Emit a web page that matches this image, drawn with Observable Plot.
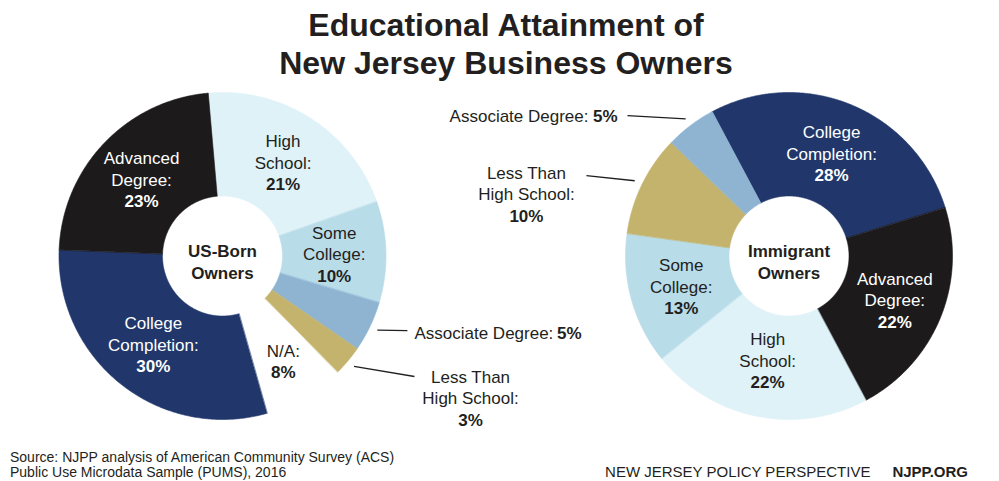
<!DOCTYPE html>
<html><head><meta charset="utf-8">
<script src="https://cdn.jsdelivr.net/npm/d3@7"></script>
<script src="https://cdn.jsdelivr.net/npm/@observablehq/plot@0.6"></script>
<style>
body{margin:0;background:#fff;font-family:"Liberation Sans",Arial,Helvetica,sans-serif;color:#231f20;}
#wrap{position:relative;width:999px;height:481px;overflow:hidden;background:#fff}
#wrap svg{position:absolute;left:0;top:0;overflow:visible}
.title{position:absolute;left:206px;width:600px;top:6px;text-align:center;font-weight:bold;font-size:32px;line-height:38px;white-space:nowrap}
.source{position:absolute;left:10px;top:450px;font-size:14px;line-height:15px;white-space:nowrap}
.brand{position:absolute;right:31px;top:464px;font-size:15px;line-height:15px;white-space:nowrap}
.brand b{margin-left:22px}
</style></head>
<body><div id="wrap">
<div class="title">Educational Attainment of<br>New Jersey Business Owners</div>
<div class="source">Source: NJPP analysis of American Community Survey (ACS)<br>Public Use Microdata Sample (PUMS), 2016</div>
<div class="brand">NEW JERSEY POLICY PERSPECTIVE<b>NJPP.ORG</b></div>
</div>
<script>
// ---- data ----
const groupNames = ["US-Born Owners", "Immigrant Owners"];
const usBornCategories = ["High School", "Some College", "Associate Degree", "Less Than High School", "N/A", "College Completion", "Advanced Degree"];
const usBornValues = [21, 10, 5, 3, 8, 30, 23];
const immigrantCategories = ["College Completion", "Advanced Degree", "High School", "Some College", "Less Than High School", "Associate Degree"];
const immigrantValues = [28, 22, 22, 13, 10, 5];
const labelNames = {
  "High School": "High\nSchool:",
  "Some College": "Some\nCollege:",
  "Associate Degree": "Associate Degree:",
  "Less Than High School": "Less Than\nHigh School:",
  "N/A": "N/A:",
  "College Completion": "College\nCompletion:",
  "Advanced Degree": "Advanced\nDegree:"
};
const colorCategories = ["High School", "Some College", "Associate Degree", "Less Than High School", "N/A", "College Completion", "Advanced Degree"];
const colorRange = ["#dff2f8", "#b9dce9", "#8fb4d2", "#c4b36c", "#ffffff", "#21376b", "#1c1a1a"];

// ---- layout ----
const FONT = "'Liberation Sans', Arial, Helvetica, sans-serif";
const FS = 17, LH = 21.5;
const R_IN = 0.367, R_OUT = 1;
const rotation = {"US-Born Owners": -5, "Immigrant Owners": -28};
const darkSlices = ["College Completion", "Advanced Degree"];
const outside = ["Associate Degree", "Less Than High School"];
// label radius overrides (unit radius), default is the arc centroid
const labelRadius = {"US-Born Owners|N/A": 0.74, "Immigrant Owners|High School": 0.65, "Immigrant Owners|Advanced Degree": 0.7};
// callout layout (unit coordinates, donut outer radius = 1)
const callouts = [
  {group: "US-Born Owners", category: "Associate Degree", end: [1.131, -0.456], text: [1.174, -0.468], textEnd: 2.196},
  {group: "US-Born Owners", category: "Less Than High School", end: [1.174, -0.737], text: [1.517, -0.865]},
  {group: "Immigrant Owners", category: "Associate Degree", end: [-0.988, 0.859], text: [-2.076, 0.859], textEnd: -1.049},
  {group: "Immigrant Owners", category: "Less Than High School", end: [-1.239, 0.492], text: [-1.606, 0.382]}
];

const polar = (a, r) => [r * Math.sin(a), r * Math.cos(a)];

// ---- build slices with d3.pie ----
const slices = [];
[[groupNames[0], usBornCategories, usBornValues], [groupNames[1], immigrantCategories, immigrantValues]].forEach(([g, cats, vals]) => {
  const rot = rotation[g] * Math.PI / 180;
  const arcs = d3.pie().sort(null).startAngle(rot).endAngle(rot + 2 * Math.PI)(vals);
  arcs.forEach((a, i) => slices.push({group: g, category: cats[i], value: vals[i], a0: a.startAngle, a1: a.endAngle, mid: (a.startAngle + a.endAngle) / 2}));
});

const points = [];
slices.forEach((s, k) => {
  const n = Math.max(2, Math.ceil((s.a1 - s.a0) / (Math.PI / 360)));
  for (let i = 0; i <= n; i++) {
    const [x, y] = polar(s.a0 + (s.a1 - s.a0) * i / n, R_OUT);
    points.push({key: k, group: s.group, category: s.category, x, y});
  }
  for (let i = n; i >= 0; i--) {
    const [x, y] = polar(s.a0 + (s.a1 - s.a0) * i / n, R_IN);
    points.push({key: k, group: s.group, category: s.category, x, y});
  }
});

const inner = slices.filter(s => !outside.includes(s.category)).map(s => {
  const r = labelRadius[s.group + "|" + s.category] ?? (R_IN + R_OUT) / 2;
  const [x, y] = polar(s.mid, r);
  return {...s, x, y, name: labelNames[s.category], pct: s.value + "%", lines: labelNames[s.category].split("\n").length, dark: darkSlices.includes(s.category)};
});

const calls = callouts.map(c => {
  const s = slices.find(d => d.group === c.group && d.category === c.category);
  const [x1, y1] = polar(s.mid, 1.05);
  return {...c, x1, y1, x2: c.end[0], y2: c.end[1], tx: c.text[0], ty: c.text[1], name: labelNames[c.category], pct: s.value + "%"};
});
const inlineCalls = calls.filter(c => c.textEnd !== undefined);
const blockCalls = calls.filter(c => c.textEnd === undefined);

const textBase = {fx: "group", fontSize: FS, lineHeight: LH / FS};
const marks = [
  Plot.line(points, {fx: "group", x: "x", y: "y", z: "key", fill: "category", stroke: "category", strokeWidth: 0.6, curve: "linear-closed"}),
  // inner labels: names and bold percentages
  ...[[2, true], [2, false], [1, true], [1, false]].flatMap(([n, dark]) => {
    const d = inner.filter(s => s.lines === n && s.dark === dark);
    return [
      Plot.text(d, {...textBase, x: "x", y: "y", text: "name", fill: dark ? "#ffffff" : "#231f20", dy: -LH / 2}),
      Plot.text(d, {...textBase, x: "x", y: "y", text: "pct", fill: dark ? "#ffffff" : "#231f20", fontWeight: "bold", dy: n * LH / 2})
    ];
  }),
  // center labels
  Plot.text(groupNames, {fx: d => d, x: 0, y: 0, text: d => d.replace(" ", "\n"), fontSize: FS, lineHeight: LH / FS, fontWeight: "bold", fill: "#231f20", dy: 5}),
  // callouts
  Plot.link(calls, {fx: "group", x1: "x1", y1: "y1", x2: "x2", y2: "y2", stroke: "#231f20", strokeWidth: 1.3}),
  Plot.text(inlineCalls, {...textBase, x: "tx", y: "ty", text: "name", textAnchor: "start", fill: "#231f20"}),
  Plot.text(inlineCalls, {...textBase, x: "textEnd", y: "ty", text: "pct", textAnchor: "end", fontWeight: "bold", fill: "#231f20"}),
  Plot.text(blockCalls, {...textBase, x: "tx", y: "ty", text: "name", fill: "#231f20", dy: -LH / 2}),
  Plot.text(blockCalls, {...textBase, x: "tx", y: "ty", text: "pct", fontWeight: "bold", fill: "#231f20", dy: LH})
];

const chart = Plot.plot({
  width: 999, height: 481,
  marginLeft: 58.5, marginRight: 47, marginTop: 92, marginBottom: 62,
  x: {domain: [-1, 1], axis: null},
  y: {domain: [-1, 1], axis: null},
  fx: {domain: groupNames, paddingInner: 0.4228, paddingOuter: 0, axis: null, round: false},
  color: {domain: colorCategories, range: colorRange},
  style: {fontFamily: FONT, fontSize: "17px", color: "#231f20", background: "transparent", overflow: "visible"},
  marks
});
document.getElementById("wrap").prepend(chart);
</script>
</body></html>
